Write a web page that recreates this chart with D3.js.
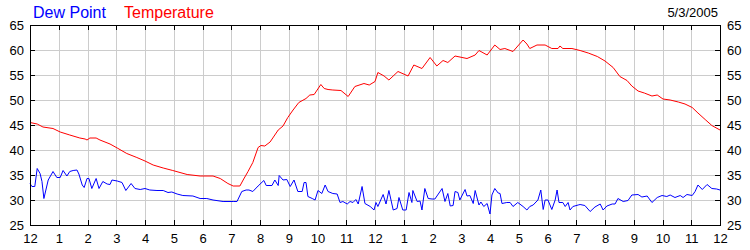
<!DOCTYPE html>
<html><head><meta charset="utf-8">
<script src="https://cdn.jsdelivr.net/npm/d3@7/dist/d3.min.js"></script>
<style>
body{margin:0;background:#fff}
svg{display:block}
text{font-family:"Liberation Sans",Arial,sans-serif}
</style>
</head><body>
<svg id="chart" width="750" height="250"></svg>
<script>
// ---------- data ----------
const chartDate = "5/3/2005";
const seriesNames = ["Dew Point", "Temperature"];
const yTickValues = [25, 30, 35, 40, 45, 50, 55, 60, 65];
// minutes after midnight, 5/3/2005
const tempMinutes = [0,15,27,48,63,83,104,115,119,125,138,146,167,182,202,223,240,257,278,298,328,355,382,397,413,424,438,446,455,465,476,482,490,501,518,528,538,549,561,576,584,593,607,614,622,632,649,664,678,697,708,720,726,739,749,768,789,801,818,835,849,862,872,887,912,929,937,954,970,981,991,1008,1029,1037,1043,1058,1075,1089,1102,1106,1112,1131,1148,1165,1184,1200,1217,1231,1246,1256,1269,1282,1298,1309,1321,1336,1353,1367,1382,1394,1409,1423,1440];
const tempValues = [45.5,45.2,44.6,44.3,43.6,43,42.4,42.2,42,42.4,42.4,42,41.2,40.4,39.3,38.5,37.8,37,36.4,35.9,35.1,34.8,34.8,34.3,33.3,32.8,32.8,34.2,35.7,37.5,40.5,40.9,40.8,41.6,44,44.8,46.5,48,49.5,50.3,51,51.1,53.1,52.3,52.1,52,51.9,50.7,52.7,53.3,53,53.7,55.5,54.8,54,55.7,54.8,57,56.3,58.5,56.8,57.9,57.5,58.8,58.3,59,59.9,59,61,60.1,60.3,59.7,62,61.2,60.3,61,61,60.3,60.3,60.8,60.3,60.3,59.9,59.4,58.7,57.8,56.5,54.7,53.9,52.8,51.8,51.4,50.8,51,50.2,50,49.6,49.2,48.5,47.4,46.1,44.9,44];
const dewMinutes = [0,4,10,15,21,25,29,38,48,56,63,69,77,83,90,98,102,109,113,119,123,129,138,144,152,161,167,171,182,192,200,211,219,230,240,250,265,278,288,296,307,319,340,355,369,382,403,424,432,442,451,457,465,476,488,493,505,511,518,520,528,536,543,551,559,568,572,576,580,589,595,601,609,616,622,632,641,647,653,662,668,674,680,685,693,699,710,718,722,726,737,743,749,758,766,770,778,785,791,797,799,808,814,818,824,831,839,845,860,866,872,877,883,887,893,897,908,912,918,925,929,937,941,947,954,960,964,970,977,981,985,995,1002,1008,1018,1029,1037,1043,1050,1060,1066,1071,1075,1081,1089,1096,1100,1104,1112,1117,1123,1127,1133,1144,1148,1158,1169,1179,1190,1196,1204,1215,1221,1227,1238,1248,1256,1269,1277,1288,1298,1309,1319,1329,1336,1346,1357,1363,1371,1382,1388,1394,1403,1413,1423,1433,1440];
const dewValues = [33.3,32.7,32.7,36.3,35.3,33.7,30.3,34,35.7,34.5,34.5,35.9,34.8,35.7,35.9,36,35.2,33,32.5,34.3,34.3,32.3,34.3,32.3,33.7,33.2,33.1,34,33.8,33.5,31.9,33.3,32.3,32.1,32.3,32,31.9,31.9,31.5,31.6,31.2,30.9,30.8,30.3,30.3,30,29.7,29.7,29.7,31.7,32,32,31.7,32.8,33.9,32.9,32.9,34,32.9,34.9,34,34.1,32.7,34,31.7,31.7,33.5,33.5,30.7,30.3,30,31.9,31.3,33,31.7,31.3,31.2,29.5,29.7,29.2,29.7,29.5,30.1,29.2,32.7,29.3,28.7,28,29.5,28.7,31.1,29.2,31.9,28,28.3,30.5,28,28,31.5,29.5,31.9,29.7,29.8,28,32.3,30.3,30.2,30.2,32.3,29.7,31.3,28.8,28.9,31.7,31.5,30,32.1,30.8,30.9,29.3,31.9,29,29.6,28.7,29.3,27.2,31,32.3,31.4,31.3,29.3,29.5,29.5,28.7,29.5,28.7,28,28.7,29,30,32,28.1,30,30,28.1,30,32,29.5,29.5,28.7,29.5,28,28.7,29,29.1,28.9,27.7,28.6,29.2,28,28.8,29.2,29.2,30.3,29.7,29.9,31,31.1,30.6,30.8,29.5,30.5,30.9,30.7,31,30.5,30.9,30.5,31.1,30.9,31.7,33,32.1,33.1,32.3,32.2,32];

// ---------- layout / style ----------
const W = 750, H = 250;
const M = {left: 30, right: 30, top: 25, bottom: 25};
const colors = {dew: "#0000ff", temp: "#ff0000", grid: "#cccccc", axis: "#000"};
const day0 = new Date(2005, 4, 3), day1 = new Date(2005, 4, 4);
const toDate = m => new Date(day0.getTime() + m * 60000);

const svg = d3.select("#chart");
svg.append("rect").attr("width", W).attr("height", H).attr("fill", "#fff");

const x = d3.scaleTime().domain([day0, day1]).range([M.left, W - M.right]);
const y = d3.scaleLinear().domain([25, 65]).range([H - M.bottom, M.top]);
const hours = d3.timeHour.every(1).range(day0, d3.timeHour.offset(day1, 1));
const fmt = d3.timeFormat("%-I");
const iw = W - M.left - M.right, ih = H - M.top - M.bottom;

// grid
const gx = svg.append("g").attr("transform", `translate(0,${H - M.bottom})`)
  .call(d3.axisBottom(x).tickValues(hours.slice(1, -1)).tickSize(-ih).tickFormat(""));
const gy = svg.append("g").attr("transform", `translate(${M.left},0)`)
  .call(d3.axisLeft(y).tickValues(yTickValues.slice(1, -1)).tickSize(-iw).tickFormat(""));
[gx, gy].forEach(g => { g.select(".domain").remove(); g.selectAll("line").attr("stroke", colors.grid).attr("shape-rendering", "crispEdges"); });

// lines
const line = d3.line().x(d => x(toDate(d[0]))).y(d => y(d[1]));
svg.append("path").datum(d3.zip(tempMinutes, tempValues))
  .attr("fill", "none").attr("stroke", colors.temp).attr("stroke-width", 1).attr("d", line);
svg.append("path").datum(d3.zip(dewMinutes, dewValues))
  .attr("fill", "none").attr("stroke", colors.dew).attr("stroke-width", 1).attr("d", line);

// axes with inward ticks
function styleAxis(g, fs) {
  g.selectAll("path,line").attr("stroke", colors.axis).attr("shape-rendering", "crispEdges");
  g.selectAll("text").attr("fill", "#000").style("font-size", fs + "px").attr("font-family", '"Liberation Sans",Arial,sans-serif');
}
const axBottom = svg.append("g").attr("transform", `translate(0,${H - M.bottom})`)
  .call(d3.axisBottom(x).tickValues(hours).tickSizeInner(-5).tickSizeOuter(0).tickPadding(9).tickFormat(fmt));
styleAxis(axBottom, 13);
const axTop = svg.append("g").attr("transform", `translate(0,${M.top})`)
  .call(d3.axisTop(x).tickValues(hours).tickSizeInner(-5).tickSizeOuter(0).tickFormat(""));
styleAxis(axTop, 13);
const axLeft = svg.append("g").attr("transform", `translate(${M.left},0)`)
  .call(d3.axisLeft(y).tickValues(yTickValues).tickSizeInner(-5).tickSizeOuter(0).tickPadding(6));
styleAxis(axLeft, 13);
const axRight = svg.append("g").attr("transform", `translate(${W - M.right},0)`)
  .call(d3.axisRight(y).tickValues(yTickValues).tickSizeInner(-5).tickSizeOuter(0).tickPadding(7));
styleAxis(axRight, 13);

// legend & date
svg.append("text").attr("x", 33).attr("y", 18).attr("fill", colors.dew)
  .style("font-size", "16px").text(seriesNames[0]);
svg.append("text").attr("x", 124).attr("y", 18).attr("fill", colors.temp)
  .style("font-size", "16px").text(seriesNames[1]);
svg.append("text").attr("x", 718).attr("y", 17).attr("text-anchor", "end").attr("fill", "#000")
  .style("font-size", "13px").text(chartDate);
</script>
</body></html>
